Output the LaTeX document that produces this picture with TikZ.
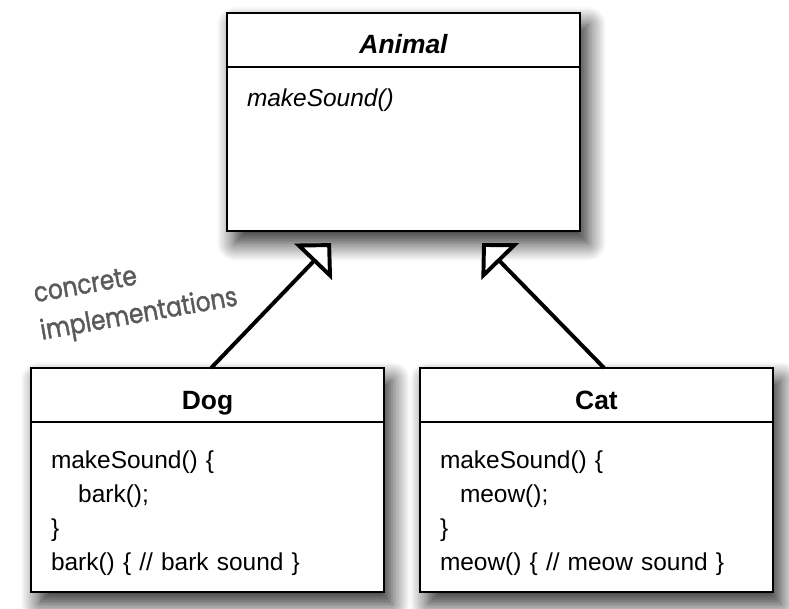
\documentclass[tikz,border=0pt]{standalone}
\usepackage{fontspec}
\setmainfont{Liberation Sans}
\newfontfamily\handfont[FakeStretch=0.85,FakeBold=1.4]{Poppins}
\usetikzlibrary{positioning,arrows.meta,shadows.blur,fit,backgrounds}
\definecolor{handgray}{HTML}{5A5A5A}

\begin{document}
\begin{tikzpicture}[
  boxshadow/.style={fill=white,inner sep=0pt,blur shadow={shadow xshift=0.2cm,shadow yshift=-0.3cm,shadow blur radius=0.45cm,shadow blur steps=12,shadow opacity=85}},
  classhead/.style={draw,fill=white,line width=1.4pt,outer sep=0pt,inner sep=0pt,minimum width=8.825cm,minimum height=1.35cm,text height=0.7cm,text depth=0cm,font=\fontsize{18.8}{22}\selectfont\bfseries},
  classbody/.style={draw,fill=white,line width=1.4pt,outer sep=0pt,text width=7.825cm,inner xsep=0.5cm,inner ysep=0.4cm,align=left,font=\fontsize{17.4}{24.2}\selectfont},
  inherit/.style={line width=2.8pt,-{Triangle[open,fill=white,length=0.65cm,width=1.3cm]},shorten >=0.42cm},
  note/.style={align=left,rotate=10,text=handgray,font=\handfont\fontsize{19.5}{27}\selectfont}
]
  \useasboundingbox (0,0) rectangle (19.725,15.2);
  % Upper part of the Figure: the abstract class
  \node[classhead]  (animal)    at (10.0875,14.2) {\itshape Animal};
  \node[classbody,below=0pt of animal,text height=0.6cm,text depth=2.7cm] (animalops) {\textit{makeSound()}};
  % Lower part of the Figure: the two subclasses
  \node[classhead]  (dog)       at (5.1875,5.325) {Dog};
  \node[classbody,below=0pt of dog,text height=0.75cm,text depth=2.7cm] (dogops)%
  {makeSound() \{\\\hspace*{0.68cm}bark();\\\}\\bark() \{ // bark sound \}};
  \node[classhead]  (cat)       at (14.9125,5.325) {Cat};
  \node[classbody,below=0pt of cat,text height=0.75cm,text depth=2.7cm] (catops)%
  {makeSound() \{\\\hspace*{0.5cm}meow();\\\}\\meow() \{ // meow sound \}};
  \begin{scope}[on background layer]
    \node[boxshadow,fit=(animal)(animalops)] (animalbg) {};
    \node[boxshadow,fit=(dog)(dogops)]       (dogbg)    {};
    \node[boxshadow,fit=(cat)(catops)]       (catbg)    {};
  \end{scope}
  \node[note]       (concrete)  at (3.4,7.75) {concrete\\implementations};
  \draw[inherit] ([xshift=0.09cm]dog.north) -- ([xshift=-1.52cm]animalops.south);
  \draw[inherit] ([xshift=0.19cm]cat.north) -- ([xshift=1.67cm]animalops.south);
\end{tikzpicture}
\end{document}
